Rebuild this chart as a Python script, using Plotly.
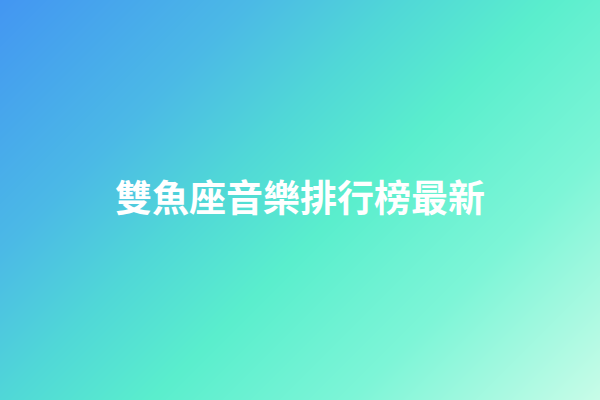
import plotly.graph_objects as go

# corner positions along the diagonal gradient (top-left -> bottom-right)
grad_x = [0, 600]
grad_y = [0, 400]
grad_z = [[0.0, 0.6],
          [0.4, 1.0]]

# colour stops
stops = [0.0, 0.25, 0.4, 0.55, 0.75, 1.0]
stop_colors = ["#4396f2", "#4bb9e6", "#50d7d7", "#5aeecd", "#7df5d7", "#c8fce8"]

title_text = "雙魚座音樂排行榜最新"

fig = go.Figure()

# background gradient drawn as a smoothed 2x2 heatmap
fig.add_trace(go.Heatmap(
    x=grad_x, y=grad_y, z=grad_z,
    zsmooth="best", zmin=0, zmax=1,
    colorscale=[[s, c] for s, c in zip(stops, stop_colors)],
    showscale=False, hoverinfo="skip"))

fig.add_annotation(
    x=300, y=196, xref="x", yref="y", text="<b>" + title_text + "</b>",
    showarrow=False, xanchor="center", yanchor="middle",
    font=dict(family="Noto Sans CJK TC", size=37, color="white"))

fig.update_xaxes(range=[0, 600], visible=False, fixedrange=True)
fig.update_yaxes(range=[400, 0], visible=False, fixedrange=True)
fig.update_layout(width=600, height=400, margin=dict(l=0, r=0, t=0, b=0),
                  paper_bgcolor="#5aeecd", plot_bgcolor="#5aeecd",
                  showlegend=False)

# drop the page's default body margin so the picture fills the window
fig.write_html("out.html", config={"displayModeBar": False},
               post_script="document.body.style.margin='0';")
